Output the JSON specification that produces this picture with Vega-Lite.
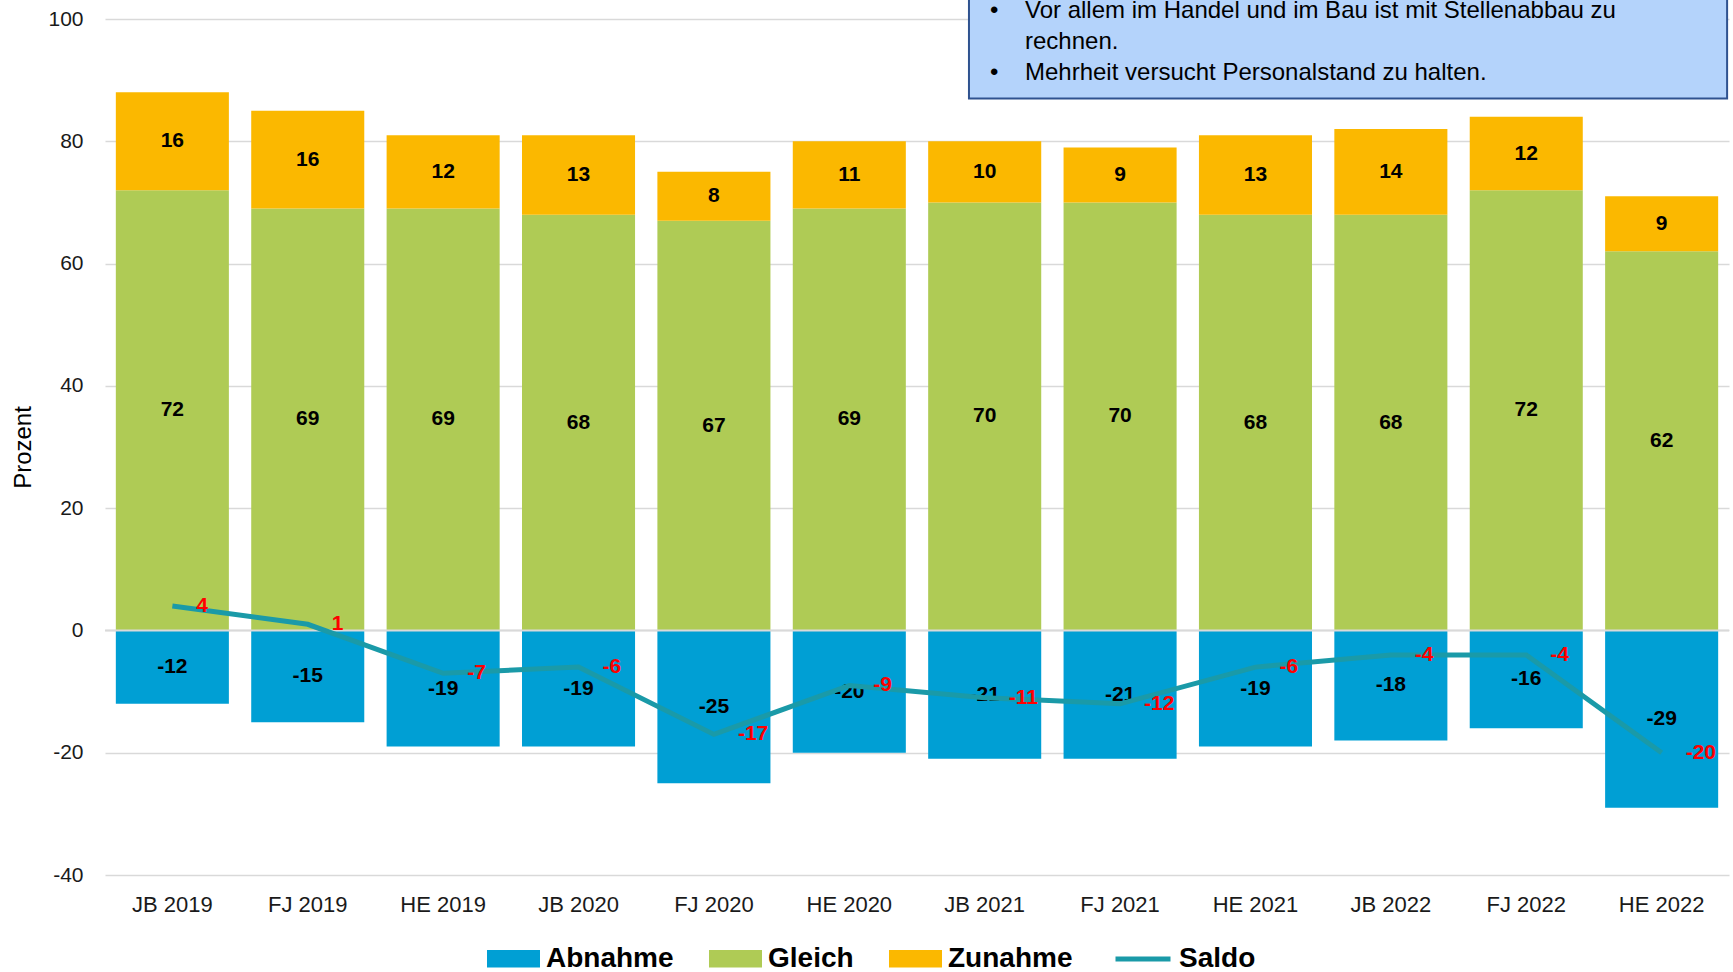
{
  "$schema": "https://vega.github.io/schema/vega-lite/v6.json",
  "autosize": {"type": "none"},
  "padding": {"left": 105, "top": 19, "right": 4, "bottom": 97},
  "width": 1624,
  "height": 856,
  "config": {"view": {"stroke": null}, "font": "Liberation Sans", "legend": {"padding": 0}},
  "datasets": {
    "werte": [
      {"periode": "JB 2019", "kat": "Abnahme", "idx": 0, "wert": -12},
      {"periode": "JB 2019", "kat": "Gleich", "idx": 1, "wert": 72},
      {"periode": "JB 2019", "kat": "Zunahme", "idx": 2, "wert": 16},
      {"periode": "FJ 2019", "kat": "Abnahme", "idx": 0, "wert": -15},
      {"periode": "FJ 2019", "kat": "Gleich", "idx": 1, "wert": 69},
      {"periode": "FJ 2019", "kat": "Zunahme", "idx": 2, "wert": 16},
      {"periode": "HE 2019", "kat": "Abnahme", "idx": 0, "wert": -19},
      {"periode": "HE 2019", "kat": "Gleich", "idx": 1, "wert": 69},
      {"periode": "HE 2019", "kat": "Zunahme", "idx": 2, "wert": 12},
      {"periode": "JB 2020", "kat": "Abnahme", "idx": 0, "wert": -19},
      {"periode": "JB 2020", "kat": "Gleich", "idx": 1, "wert": 68},
      {"periode": "JB 2020", "kat": "Zunahme", "idx": 2, "wert": 13},
      {"periode": "FJ 2020", "kat": "Abnahme", "idx": 0, "wert": -25},
      {"periode": "FJ 2020", "kat": "Gleich", "idx": 1, "wert": 67},
      {"periode": "FJ 2020", "kat": "Zunahme", "idx": 2, "wert": 8},
      {"periode": "HE 2020", "kat": "Abnahme", "idx": 0, "wert": -20},
      {"periode": "HE 2020", "kat": "Gleich", "idx": 1, "wert": 69},
      {"periode": "HE 2020", "kat": "Zunahme", "idx": 2, "wert": 11},
      {"periode": "JB 2021", "kat": "Abnahme", "idx": 0, "wert": -21},
      {"periode": "JB 2021", "kat": "Gleich", "idx": 1, "wert": 70},
      {"periode": "JB 2021", "kat": "Zunahme", "idx": 2, "wert": 10},
      {"periode": "FJ 2021", "kat": "Abnahme", "idx": 0, "wert": -21},
      {"periode": "FJ 2021", "kat": "Gleich", "idx": 1, "wert": 70},
      {"periode": "FJ 2021", "kat": "Zunahme", "idx": 2, "wert": 9},
      {"periode": "HE 2021", "kat": "Abnahme", "idx": 0, "wert": -19},
      {"periode": "HE 2021", "kat": "Gleich", "idx": 1, "wert": 68},
      {"periode": "HE 2021", "kat": "Zunahme", "idx": 2, "wert": 13},
      {"periode": "JB 2022", "kat": "Abnahme", "idx": 0, "wert": -18},
      {"periode": "JB 2022", "kat": "Gleich", "idx": 1, "wert": 68},
      {"periode": "JB 2022", "kat": "Zunahme", "idx": 2, "wert": 14},
      {"periode": "FJ 2022", "kat": "Abnahme", "idx": 0, "wert": -16},
      {"periode": "FJ 2022", "kat": "Gleich", "idx": 1, "wert": 72},
      {"periode": "FJ 2022", "kat": "Zunahme", "idx": 2, "wert": 12},
      {"periode": "HE 2022", "kat": "Abnahme", "idx": 0, "wert": -29},
      {"periode": "HE 2022", "kat": "Gleich", "idx": 1, "wert": 62},
      {"periode": "HE 2022", "kat": "Zunahme", "idx": 2, "wert": 9}
    ],
    "saldo": [
      {"periode": "JB 2019", "saldo": 4},
      {"periode": "FJ 2019", "saldo": 1},
      {"periode": "HE 2019", "saldo": -7},
      {"periode": "JB 2020", "saldo": -6},
      {"periode": "FJ 2020", "saldo": -17},
      {"periode": "HE 2020", "saldo": -9},
      {"periode": "JB 2021", "saldo": -11},
      {"periode": "FJ 2021", "saldo": -12},
      {"periode": "HE 2021", "saldo": -6},
      {"periode": "JB 2022", "saldo": -4},
      {"periode": "FJ 2022", "saldo": -4},
      {"periode": "HE 2022", "saldo": -20}
    ]
  },
  "layer": [
    {
      "encoding": {
        "x": {
          "field": "periode",
          "type": "nominal",
          "sort": ["JB 2019", "FJ 2019", "HE 2019", "JB 2020", "FJ 2020", "HE 2020", "JB 2021", "FJ 2021", "HE 2021", "JB 2022", "FJ 2022", "HE 2022"],
          "scale": {"paddingInner": 0.165, "paddingOuter": 0.08},
          "axis": {"title": null, "labelAngle": 0, "labelFontSize": 22, "labelColor": "#1a1a1a", "ticks": false, "domain": false, "labelPadding": 19, "grid": false}
        }
      },
      "layer": [
        {
          "data": {"name": "werte"},
          "transform": [
            {"stack": "wert", "groupby": ["periode"], "sort": [{"field": "idx", "order": "ascending"}], "as": ["y0", "y1"]},
            {"calculate": "(datum.y0 + datum.y1) / 2", "as": "mid"}
          ],
          "layer": [
            {
              "mark": {"type": "bar"},
              "encoding": {
                "y": {
                  "field": "y0",
                  "type": "quantitative",
                  "scale": {"domain": [-40, 100], "nice": false, "zero": false},
                  "axis": {
                    "title": "Prozent", "titleFontSize": 24, "titleFontWeight": "normal", "titleColor": "#000", "titlePadding": 12,
                    "values": [-40, -20, 0, 20, 40, 60, 80, 100],
                    "labelExpr": "'' + datum.value",
                    "labelFontSize": 21, "labelColor": "#1a1a1a", "labelPadding": 22,
                    "ticks": false, "domain": false, "gridColor": "#d9d9d9", "gridWidth": 1.5
                  }
                },
                "y2": {"field": "y1"},
                "fill": {
                  "field": "kat",
                  "type": "nominal",
                  "scale": {"domain": ["Abnahme", "Gleich", "Zunahme"], "range": ["#009fd4", "#afcb55", "#fbb800"]},
                  "legend": {
                    "title": null, "orient": "none", "legendX": 382, "legendY": 913, "direction": "horizontal",
                    "symbolType": "M-1,-0.33H1V0.33H-1Z", "symbolSize": 2809, "symbolStrokeWidth": 0, "symbolOpacity": 1,
                    "labelFontSize": 28, "labelFontWeight": "bold", "labelColor": "#000", "labelOffset": 6, "columnPadding": 35
                  }
                }
              }
            },
            {
              "mark": {"type": "text", "fontWeight": "bold", "fontSize": 21, "color": "#000", "baseline": "middle"},
              "encoding": {
                "y": {"field": "mid", "type": "quantitative", "stack": null},
                "text": {"field": "wert", "type": "nominal"}
              }
            }
          ]
        },
        {
          "data": {"values": [{}]},
          "mark": {"type": "rule", "color": "#d9d9d9", "strokeWidth": 2},
          "encoding": {
            "x": null,
            "y": {"datum": 0, "type": "quantitative"}
          }
        },
        {
          "data": {"name": "saldo"},
          "layer": [
            {
              "mark": {"type": "line", "strokeWidth": 5},
              "encoding": {
                "y": {"field": "saldo", "type": "quantitative"},
                "stroke": {
                  "datum": "Saldo",
                  "type": "nominal",
                  "scale": {"domain": ["Saldo"], "range": ["#1a9aa8"]},
                  "legend": {
                    "title": null, "orient": "none", "legendX": 1008, "legendY": 910, "direction": "horizontal",
                    "symbolType": "stroke", "symbolSize": 3025, "symbolStrokeWidth": 5,
                    "labelFontSize": 28, "labelFontWeight": "bold", "labelColor": "#000", "labelOffset": 6
                  }
                }
              }
            },
            {
              "mark": {"type": "text", "fontWeight": "bold", "fontSize": 21, "color": "#ff0000", "align": "left", "baseline": "middle", "dx": 24},
              "encoding": {
                "y": {"field": "saldo", "type": "quantitative"},
                "text": {"field": "saldo", "type": "nominal"}
              }
            }
          ]
        }
      ]
    },
    {
      "data": {"values": [{}]},
      "layer": [
        {
          "mark": {"type": "rect", "fill": "#b4d3fb", "stroke": "#2f528f", "strokeWidth": 2},
          "encoding": {
            "x": {"datum": 6.384, "type": "quantitative", "scale": {"domain": [0, 12], "nice": false, "zero": false}, "axis": null},
            "x2": {"datum": 11.986},
            "y": {"datum": 87, "type": "quantitative", "scale": {"domain": [-40, 100], "nice": false, "zero": false}, "axis": null},
            "y2": {"datum": 110}
          }
        },
        {
          "mark": {"type": "text", "fontSize": 24, "color": "#000", "align": "left", "baseline": "alphabetic", "text": "•"},
          "encoding": {
            "x": {"datum": 6.54, "type": "quantitative"},
            "y": {"datum": 100.16, "type": "quantitative"}
          }
        },
        {
          "mark": {"type": "text", "fontSize": 24, "color": "#000", "align": "left", "baseline": "alphabetic", "text": "•"},
          "encoding": {
            "x": {"datum": 6.54, "type": "quantitative"},
            "y": {"datum": 90.02, "type": "quantitative"}
          }
        },
        {
          "mark": {"type": "text", "fontSize": 24, "color": "#000", "align": "left", "baseline": "alphabetic", "lineHeight": 31, "text": ["Vor allem im Handel und im Bau ist mit Stellenabbau zu", "rechnen.", "Mehrheit versucht Personalstand zu halten."]},
          "encoding": {
            "x": {"datum": 6.798, "type": "quantitative"},
            "y": {"datum": 100.16, "type": "quantitative"}
          }
        }
      ]
    }
  ],
  "resolve": {"scale": {"x": "independent", "y": "independent"}}
}
